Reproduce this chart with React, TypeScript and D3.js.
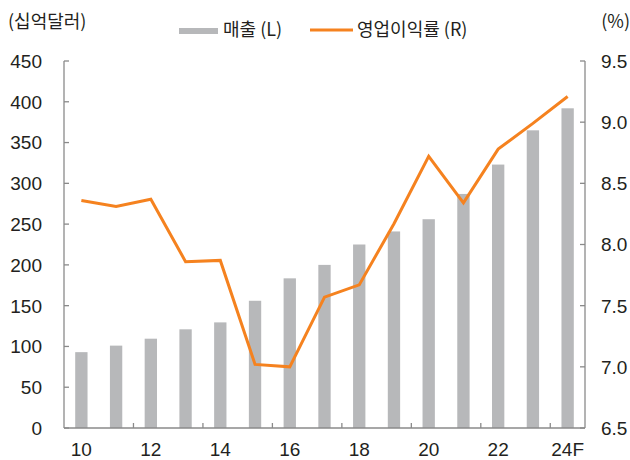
import React from "react";
import * as d3 from "d3";

const categories = ["10", "11", "12", "13", "14", "15", "16", "17", "18", "19", "20", "21", "22", "23", "24F"];
const sales = [93, 101, 109.5, 121, 129.5, 156, 183.5, 200, 225, 241, 256, 287, 323, 365, 392];
const margin = [8.36, 8.31, 8.37, 7.86, 7.87, 7.02, 7.0, 7.57, 7.67, 8.17, 8.72, 8.34, 8.78, 8.99, 9.21];
const leftTicks = [0, 50, 100, 150, 200, 250, 300, 350, 400, 450];
const rightTicks = [6.5, 7.0, 7.5, 8.0, 8.5, 9.0, 9.5];
const xLabelCats = ["10", "12", "14", "16", "18", "20", "22", "24F"];
const legendLabels = ["매출 (L)", "영업이익률 (R)"];

const W = 630, H = 460;
const X0 = 64, X1 = 585, Y0 = 428, Y1 = 61;
const BAR = "#b7b8ba";
const ORANGE = "#f5821f";
const AXIS = "#8a8a8a";
const TEXT = "#231f20";
const FONT = "'Liberation Sans', Arial, 'Noto Sans CJK KR', sans-serif";
const KFONT = "'Noto Sans CJK KR', 'Liberation Sans', sans-serif";

export default function App() {
  const x = d3.scaleBand<string>().domain(categories).range([X0, X1]).paddingInner(0.645).paddingOuter(0.3225);
  const yL = d3.scaleLinear().domain([0, 450]).range([Y0, Y1]);
  const yR = d3.scaleLinear().domain([6.5, 9.5]).range([Y0, Y1]);
  const bw = x.bandwidth();
  const step = x.step();
  const cx = (c: string) => (x(c) as number) + bw / 2;
  const line = d3.line<number>().x((_, i) => cx(categories[i])).y((d) => yR(d));
  const boundaryTicks = categories
    .map((c, i) => ({ c, i }))
    .filter((d) => d.i > 0 && d.i % 2 === 0)
    .map((d) => (x(d.c) as number) - (step - bw) / 2);

  return (
    <svg width={W} height={H} style={{ position: "absolute", left: 0, top: 0, background: "#fff" }}>
      {/* bars */}
      {sales.map((v, i) => (
        <rect key={i} x={x(categories[i])} y={yL(v)} width={bw} height={Y0 - yL(v)} fill={BAR} />
      ))}
      {/* axes */}
      <g stroke={AXIS} strokeWidth={1.3} fill="none">
        <line x1={X0} x2={X0} y1={Y1} y2={Y0} />
        <line x1={X1} x2={X1} y1={Y1} y2={Y0} />
        <line x1={X0} x2={X1} y1={Y0} y2={Y0} />
        {leftTicks.map((t) => (
          <line key={"l" + t} x1={X0} x2={X0 + 5} y1={yL(t)} y2={yL(t)} />
        ))}
        {rightTicks.map((t) => (
          <line key={"r" + t} x1={X1 - 5} x2={X1} y1={yR(t)} y2={yR(t)} />
        ))}
        {boundaryTicks.map((bx, i) => (
          <line key={"b" + i} x1={bx} x2={bx} y1={Y0} y2={Y0 - 5} />
        ))}
      </g>
      {/* line */}
      <path d={line(margin) || ""} fill="none" stroke={ORANGE} strokeWidth={3} strokeLinejoin="miter" />
      {/* tick labels */}
      <g fontFamily={FONT} fontSize={19} fill={TEXT}>
        {leftTicks.map((t) => (
          <text key={"lt" + t} x={42} y={yL(t)} dy="0.36em" textAnchor="end">{t}</text>
        ))}
        {rightTicks.map((t) => (
          <text key={"rt" + t} x={601} y={yR(t)} dy="0.36em" textAnchor="start">{t.toFixed(1)}</text>
        ))}
        {xLabelCats.map((c) => (
          <text key={"xt" + c} x={cx(c)} y={456} textAnchor="middle">{c}</text>
        ))}
      </g>
      {/* titles */}
      <g fontFamily={KFONT} fontSize={18} fill={TEXT}>
        <text x={8} y={28}>(십억달러)</text>
        <text x={630} y={28} textAnchor="end">(%)</text>
        <rect x={179} y={28} width={39} height={6} fill={BAR} />
        <text x={223} y={36}>{legendLabels[0]}</text>
        <line x1={310} x2={353} y1={30} y2={30} stroke={ORANGE} strokeWidth={3} />
        <text x={357} y={36}>{legendLabels[1]}</text>
      </g>
    </svg>
  );
}
